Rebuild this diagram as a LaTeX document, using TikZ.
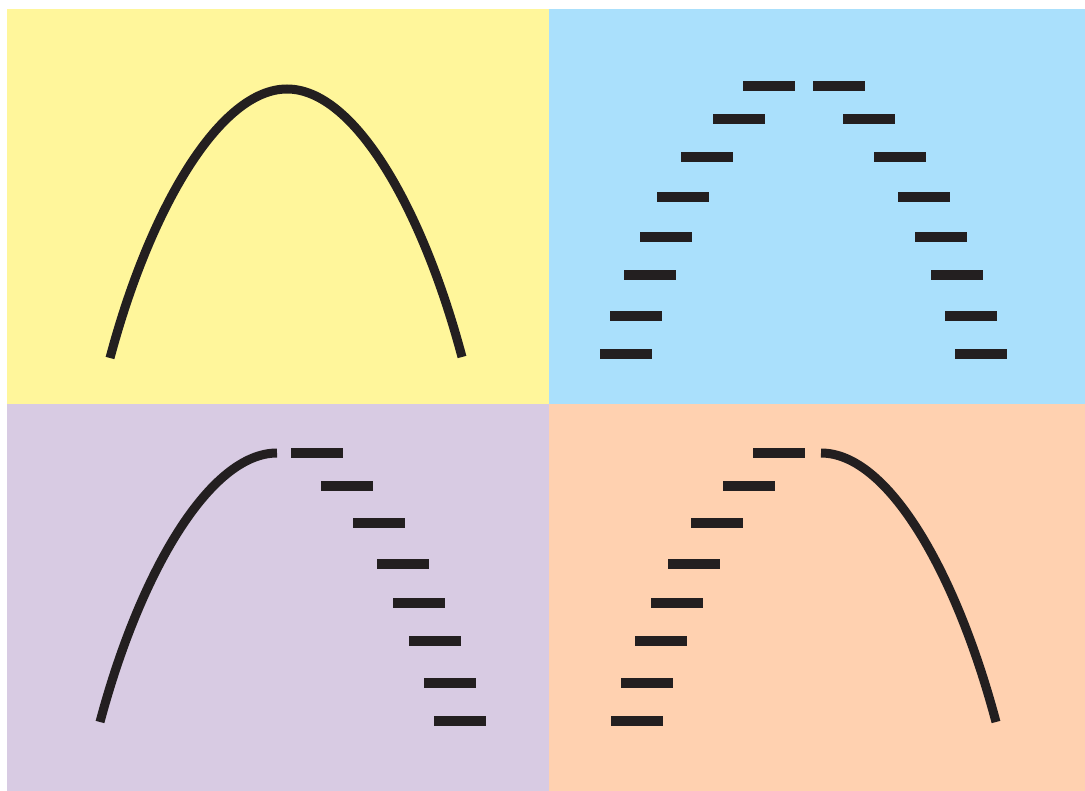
\documentclass[tikz,border=0pt]{standalone}
\usepackage{tikz}
\usepackage{xcolor}
\definecolor{ink}{RGB}{35,31,32}
\definecolor{paleyellow}{RGB}{255,246,155}
\definecolor{paleblue}{RGB}{170,224,252}
\definecolor{palelilac}{RGB}{216,203,227}
\definecolor{palepeach}{RGB}{255,209,176}

\begin{document}
\begin{tikzpicture}[
  x=0.75pt, y=-0.75pt,
  panel/.style={draw=none},
  arc/.style={draw=ink, line width=6.75pt},
  bar/.style={fill=ink},
]
  \useasboundingbox (0,0) rectangle (1085,791);
  % four panels
  \fill[paleyellow] (7,9) rectangle (549,404);
  \fill[paleblue] (549,9) rectangle (1085,404);
  \fill[palelilac] (7,404) rectangle (549,791);
  \fill[palepeach] (549,404) rectangle (1085,791);

  % top left: whole path
  \draw[arc] (110,358) .. controls (150,208) and (220,89) .. (287,89)
             .. controls (354,89) and (422,207) .. (462,357);

  % top right: dashed path
  \foreach \x/\y in {769/86, 739/119, 707/157, 683/197, 666/237, 650/275, 636/316, 626/354,
                     839/86, 869/119, 900/157, 924/197, 941/237, 957/275, 971/316, 981/354}
    \fill[bar] (\x-26,\y-5) rectangle (\x+26,\y+5);

  % bottom left: solid up, dashed down
  \draw[arc] (100,722) .. controls (140,572) and (210,453) .. (277,453);
  \foreach \x/\y in {317/453, 347/486, 379/523, 403/564, 419/603, 435/641, 450/683, 460/721}
    \fill[bar] (\x-26,\y-5) rectangle (\x+26,\y+5);

  % bottom right: dashed up, solid down
  \foreach \x/\y in {779/453, 749/486, 717/523, 694/564, 677/603, 661/641, 647/683, 637/721}
    \fill[bar] (\x-26,\y-5) rectangle (\x+26,\y+5);
  \draw[arc] (821,453) .. controls (888,453) and (956,572) .. (996,722);
\end{tikzpicture}
\end{document}
